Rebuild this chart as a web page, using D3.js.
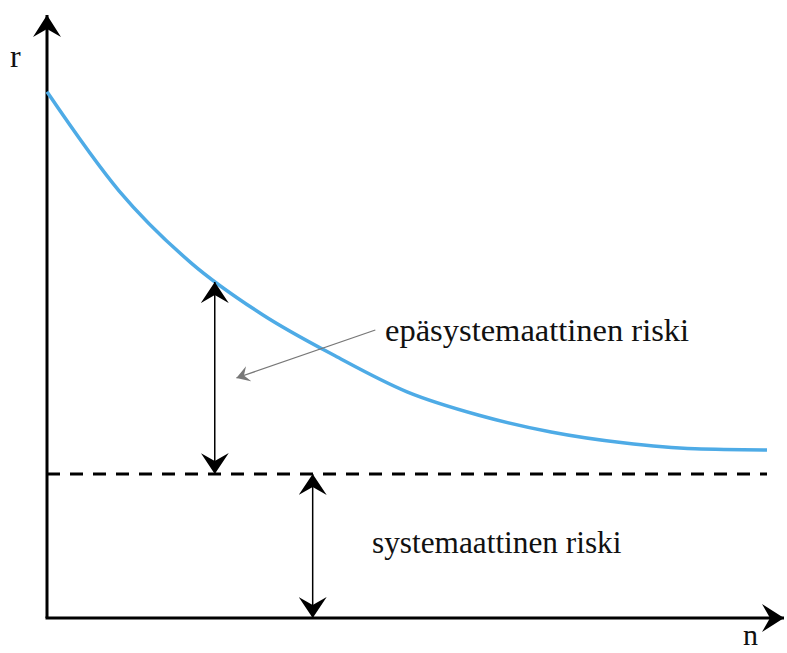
<!DOCTYPE html>
<html>
<head>
<meta charset="utf-8">
<script src="https://cdn.jsdelivr.net/npm/d3@7"></script>
<style>
  body { margin: 0; background: #fff; }
  svg text { font-family: "Liberation Serif", "DejaVu Serif", serif; fill: #111; }
</style>
</head>
<body>
<div id="chart"></div>
<script>
// portfolio size n vs total risk r
const nValues = [0, 1, 2, 3, 4, 5, 6, 7, 8, 9, 10];
const rValues = [87.7, 71.2, 59.2, 50.5, 43.7, 37.7, 33.8, 31.0, 29.2, 28.2, 28.0];
const systematicRisk = 24;
const axisLabels = ['n', 'r'];
const annotationLabels = ['epäsystemaattinen riski', 'systemaattinen riski'];

const width = 787;
const height = 653;

const x = d3.scaleLinear().domain([0, 10]).range([47, 767]);
const y = d3.scaleLinear().domain([0, 100]).range([618, 18]);

const svg = d3.select('#chart')
    .append('svg')
    .attr('width', width)
    .attr('height', height);

const defs = svg.append('defs');

function marker(id, color, w, h, notch) {
    defs.append('marker')
        .attr('id', id)
        .attr('viewBox', `0 ${-w} ${h} ${2 * w}`)
        .attr('refX', h)
        .attr('refY', 0)
        .attr('markerUnits', 'userSpaceOnUse')
        .attr('markerWidth', h)
        .attr('markerHeight', 2 * w)
        .attr('orient', 'auto-start-reverse')
        .append('path')
        .attr('d', `M${h},0 L0,${-w} L${notch},0 L0,${w} Z`)
        .attr('fill', color);
}
marker('big', '#000', 14, 22, 8);
marker('thin', '#000', 14, 21, 8);
marker('grey', '#777', 8, 13, 5);

// axes
svg.append('line')
    .attr('x1', x(0)).attr('y1', y(0))
    .attr('x2', x(0)).attr('y2', 15)
    .attr('stroke', '#000').attr('stroke-width', 3)
    .attr('marker-end', 'url(#big)');

svg.append('line')
    .attr('x1', x(0) - 1.5).attr('y1', y(0))
    .attr('x2', 784).attr('y2', y(0))
    .attr('stroke', '#000').attr('stroke-width', 3)
    .attr('marker-end', 'url(#big)');

svg.append('text')
    .attr('x', 10).attr('y', 67)
    .style('font-size', '32px')
    .text(axisLabels[1]);

svg.append('text')
    .attr('x', 743).attr('y', 645)
    .style('font-size', '30px')
    .text(axisLabels[0]);

// systematic risk level
svg.append('line')
    .attr('x1', x(0)).attr('y1', y(systematicRisk))
    .attr('x2', x(10)).attr('y2', y(systematicRisk))
    .attr('stroke', '#000').attr('stroke-width', 3)
    .attr('stroke-dasharray', '13 10');

// total risk curve
const data = nValues.map((n, i) => ({ n: n, r: rValues[i] }));
const line = d3.line()
    .x(d => x(d.n))
    .y(d => y(d.r))
    .curve(d3.curveMonotoneX);

const curvePath = svg.append('path')
    .datum(data)
    .attr('d', line)
    .attr('fill', 'none')
    .attr('stroke', '#4eabe6')
    .attr('stroke-width', 3.5);

// unsystematic risk bracket: from curve down to the dashed line
const n1 = 2.33;
const lenTotal = curvePath.node().getTotalLength();
let rAt = rValues[2];
for (let i = 0; i <= 400; i++) {
    const p = curvePath.node().getPointAtLength(lenTotal * i / 400);
    if (p.x >= x(n1)) { rAt = y.invert(p.y); break; }
}

svg.append('line')
    .attr('x1', x(n1)).attr('y1', y(rAt))
    .attr('x2', x(n1)).attr('y2', y(systematicRisk))
    .attr('stroke', '#000').attr('stroke-width', 1.5)
    .attr('marker-start', 'url(#thin)')
    .attr('marker-end', 'url(#thin)');

// systematic risk bracket
const n2 = 3.69;
svg.append('line')
    .attr('x1', x(n2)).attr('y1', y(systematicRisk))
    .attr('x2', x(n2)).attr('y2', y(0))
    .attr('stroke', '#000').attr('stroke-width', 1.5)
    .attr('marker-start', 'url(#thin)')
    .attr('marker-end', 'url(#thin)');

// pointer to the unsystematic part
svg.append('line')
    .attr('x1', x(4.56)).attr('y1', y(48))
    .attr('x2', x(2.63)).attr('y2', y(40))
    .attr('stroke', '#777').attr('stroke-width', 1.3)
    .attr('marker-end', 'url(#grey)');

svg.append('text')
    .attr('x', 385).attr('y', 341)
    .style('font-size', '32.5px')
    .text(annotationLabels[0]);

svg.append('text')
    .attr('x', 372).attr('y', 553)
    .style('font-size', '31.3px')
    .text(annotationLabels[1]);
</script>
</body>
</html>
